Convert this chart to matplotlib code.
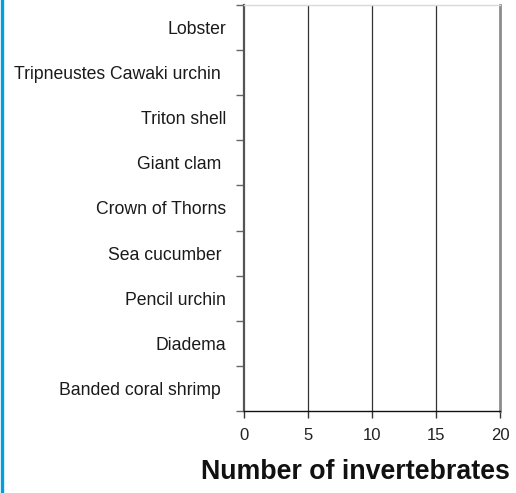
import matplotlib
matplotlib.use("Agg")
import matplotlib.pyplot as plt
from matplotlib.ticker import FixedLocator, NullFormatter

categories = [
    "Banded coral shrimp ",
    "Diadema",
    "Pencil urchin",
    "Sea cucumber ",
    "Crown of Thorns",
    "Giant clam ",
    "Triton shell",
    "Tripneustes Cawaki urchin ",
    "Lobster",
]
counts = [0, 0, 0, 0, 0, 0, 0, 0, 0]
x_ticks = [0, 5, 10, 15, 20]

plt.rcParams["font.family"] = ["Liberation Sans", "DejaVu Sans"]

fig = plt.figure(figsize=(5.16, 4.93), dpi=100)
ax = fig.add_axes([244 / 516, 1 - 411 / 493, 256 / 516, 406 / 493])

ypos = list(range(len(categories)))
ax.barh(ypos, counts, height=0.6, color="#1f77b4")

ax.set_xlim(x_ticks[0], x_ticks[-1])
ax.set_ylim(-0.5, len(categories) - 0.5)

ax.set_xticks(x_ticks)
ax.set_xticklabels([str(t) for t in x_ticks], fontsize=12, color="#222222")
ax.tick_params(axis="x", direction="out", length=5, width=1, color="#333333", pad=7)

ax.set_yticks(ypos)
ax.set_yticklabels(categories, fontsize=12.7, color="#1a1a1a")
ax.tick_params(axis="y", which="major", length=0, pad=13)
ax.yaxis.set_minor_locator(FixedLocator([i - 0.5 for i in range(len(categories) + 1)]))
ax.yaxis.set_minor_formatter(NullFormatter())
ax.tick_params(axis="y", which="minor", direction="out", length=6, width=1, color="#666666")

for v in x_ticks[1:-1]:
    ax.axvline(v, color="#333333", linewidth=0.9, zorder=0)

ax.spines["left"].set_color("#555555")
ax.spines["left"].set_linewidth(1.6)
ax.spines["bottom"].set_color("#111111")
ax.spines["bottom"].set_linewidth(1.0)
ax.spines["top"].set_color("#d9d9d9")
ax.spines["top"].set_linewidth(1.0)
ax.spines["right"].set_color("#8c8c8c")
ax.spines["right"].set_linewidth(2.0)

fig.text(510 / 516, 1 - 472 / 493, "Number of invertebrates", ha="right", va="center",
         fontsize=19.3, fontweight="bold", color="#111111")

# blue rule along the left edge
fig.add_artist(plt.Line2D([1.5 / 516, 1.5 / 516], [0, 1], color="#00a0e0", linewidth=2.4,
                          transform=fig.transFigure))

fig.savefig("out.png", dpi=100)
